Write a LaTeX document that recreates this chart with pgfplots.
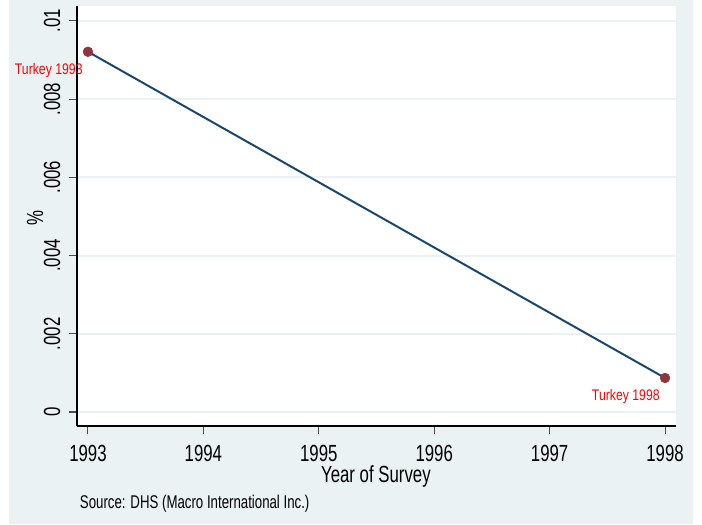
\documentclass[border=0pt]{standalone}
\usepackage{fontspec}
\setmainfont{Liberation Sans}[FakeStretch=0.72]
\newfontfamily\labfont{Liberation Sans}[FakeStretch=0.8]
\usepackage{pgfplots}
\pgfplotsset{compat=1.18}
\definecolor{bgc}{HTML}{EAF2F3}
\definecolor{navy}{HTML}{1A476F}
\definecolor{maroon}{HTML}{90353B}

\begin{document}
\begin{tikzpicture}
% 1px = 0.75pt, origin at the axis' south west corner
\useasboundingbox (-57.75pt,-73.5pt) rectangle (468.75pt,319.5pt);
\fill[bgc] (-51pt,-73.5pt) rectangle (462pt,319.5pt);
\begin{axis}[
    scale only axis,
    width=449.25pt, height=315pt,
    xmin=1992.905, xmax=1998.095,
    ymin=-0.000358, ymax=0.01038,
    scaled y ticks=false,
    axis lines*=left,
    axis line style={black, line width=0.8pt},
    axis background/.style={fill=white},
    clip=false,
    xtick={1993,1994,1995,1996,1997,1998},
    xticklabels={1993,1994,1995,1996,1997,1998},
    ytick={0,0.002,0.004,0.006,0.008,0.01},
    yticklabels={0,.002,.004,.006,.008,.01},
    tick align=outside,
    major tick length=6pt,
    tick style={black!70, line width=0.8pt},
    ymajorgrids,
    major grid style={bgc, line width=1.5pt},
    ticklabel style={font=\fontsize{17.5}{20}\selectfont},
    xticklabel style={yshift=-4.5pt},
    yticklabel style={rotate=90, anchor=south, yshift=3pt},
    xlabel={Year of Survey},
    ylabel={\%},
    every axis x label/.style={at={(axis description cs:0.499,-0.119)}, anchor=center,
      font=\fontsize{17.5}{20}\selectfont},
    every axis y label/.style={at={(axis description cs:-0.07,0.495)}, rotate=90, anchor=center,
      font=\fontsize{17.5}{20}\selectfont},
  ]
  \addplot[navy, line width=1.5pt, mark=*, mark size=3.6pt,
    mark options={maroon, fill=maroon, line width=0.5pt},
    nodes near coords, point meta=explicit symbolic,
    every node near coord/.append style={anchor=east, xshift=-3.75pt, yshift=-14.25pt,
      inner sep=0pt, text=red, font=\labfont\fontsize{11.5}{13}\selectfont}]
    coordinates {(1993,0.00921) [Turkey 1993] (1998,0.00087) [Turkey 1998]};
\end{axis}
\node[anchor=west, inner sep=0pt, font=\fontsize{13.8}{15}\selectfont] at (2pt,-58.5pt) {Source: DHS (Macro International Inc.)};
\end{tikzpicture}
\end{document}
